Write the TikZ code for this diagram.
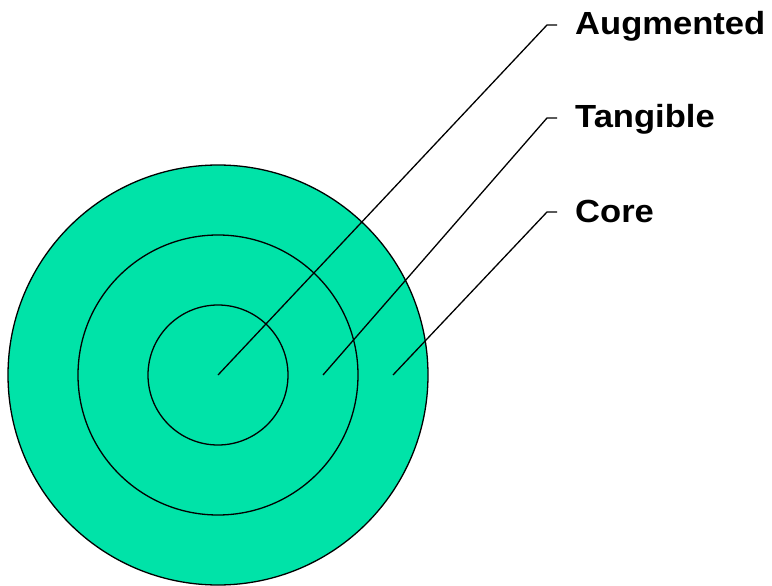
\documentclass[tikz,border=0pt]{standalone}
\usepackage{fontspec}
\setmainfont{Liberation Sans}[FakeStretch=1.08]
\definecolor{ringgreen}{RGB}{0,227,168}
\begin{document}
\begin{tikzpicture}[x=1pt,y=-1pt,
  ring/.style={draw=black,line width=1.3pt},
  leader/.style={draw=black,line width=1.3pt},
  lab/.style={anchor=base west,inner sep=0pt,font=\fontsize{32}{36}\selectfont\bfseries}]
\useasboundingbox (0,0) rectangle (772,586);
\coordinate (c) at (218,375);
\fill[ringgreen] (c) circle[radius=210];
\draw[ring] (c) circle[radius=210];
\draw[ring] (c) circle[radius=140];
\draw[ring] (c) circle[radius=70];
\coordinate (a0) at (218,375);
\coordinate (t0) at (323,375);
\coordinate (k0) at (393,375);
\coordinate (a1) at (547,25);
\coordinate (t1) at (547,118);
\coordinate (k1) at (547,212);
\coordinate (a2) at (557,25);
\coordinate (t2) at (557,118);
\coordinate (k2) at (557,212);
\node[lab] (la) at (575,35) {Augmented};
\node[lab] (lt) at (575,128) {Tangible};
\node[lab] (lk) at (575,222) {Core};
\draw[leader] (a0) -- (a1) -- (a2);
\draw[leader] (t0) -- (t1) -- (t2);
\draw[leader] (k0) -- (k1) -- (k2);
\end{tikzpicture}
\end{document}
